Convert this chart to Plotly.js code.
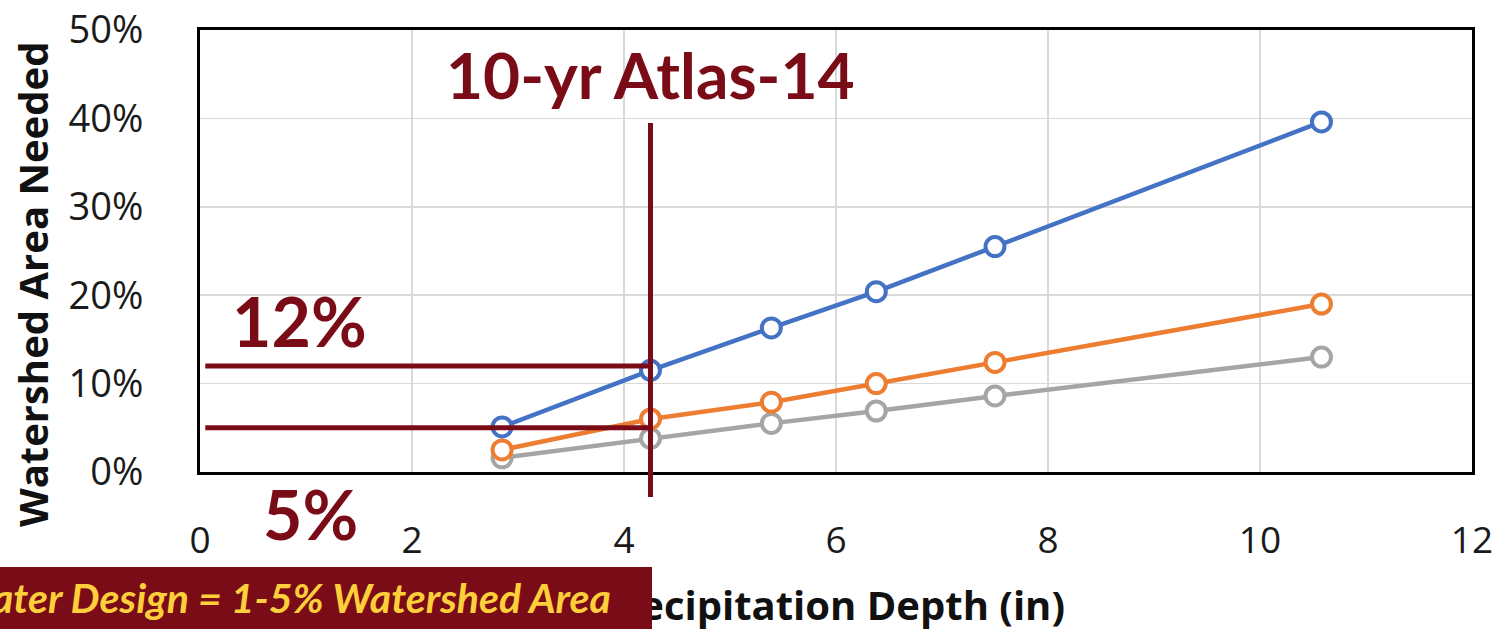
<!DOCTYPE html>
<html>
<head>
<meta charset="utf-8">
<script src="https://cdn.plot.ly/plotly-3.0.1.min.js"></script>
<style>html,body{margin:0;padding:0;background:#fff;}#chart{width:1501px;height:629px;}</style>
</head>
<body>
<div id="chart"></div>
<script>
// Precipitation depth (in)
const depth = [2.85, 4.25, 5.39, 6.38, 7.5, 10.58];
// Watershed area needed (fraction)
const seriesBlue = [0.051, 0.115, 0.163, 0.204, 0.255, 0.396];
const seriesOrange = [0.025, 0.060, 0.079, 0.100, 0.124, 0.190];
const seriesGray = [0.016, 0.038, 0.055, 0.069, 0.086, 0.130];
// Reference marks
const atlasDepth = 4.25;
const atlasHigh = 0.12;
const atlasLow = 0.05;
const xTicks = [0, 2, 4, 6, 8, 10, 12];
const yTicks = [0, 0.1, 0.2, 0.3, 0.4, 0.5];

const DR = '#7a0c18';
function line(y, color) {
  return {
    x: depth, y: y, type: 'scatter', mode: 'lines+markers',
    line: {color: color, width: 4.5},
    marker: {symbol: 'circle', size: 19, color: '#ffffff', line: {color: color, width: 4}},
    cliponaxis: false, hoverinfo: 'skip'
  };
}
const data = [line(seriesGray, '#a5a5a5'), line(seriesOrange, '#ed7d31'), line(seriesBlue, '#4472c4')];

const L = 200, T = 30, W = 1272, H = 442;
const px = v => (v - L) / W;
const py = v => (T + H - v) / H;

function ann(o) {
  return Object.assign({xref: 'paper', yref: 'paper', showarrow: false, xanchor: 'center', yanchor: 'middle'}, o);
}

const layout = {
  width: 1501, height: 629,
  margin: {l: L, r: 1501 - L - W, t: T, b: 629 - T - H},
  paper_bgcolor: '#ffffff', plot_bgcolor: '#ffffff',
  showlegend: false,
  font: {family: 'Open Sans, sans-serif', color: '#1a1a1a'},
  xaxis: {
    range: [0, 12], tickvals: xTicks, ticktext: xTicks.map(String),
    showgrid: true, gridcolor: '#d9d9d9', gridwidth: 1.5,
    showline: true, linecolor: '#000', linewidth: 3, mirror: true,
    zeroline: false, ticks: '', ticklabelstandoff: 34,
    tickfont: {size: 37, family: 'Open Sans, sans-serif', color: '#1a1a1a'}
  },
  yaxis: {
    range: [0, 0.5], tickvals: yTicks, tickformat: '.0%',
    showgrid: true, gridcolor: '#d9d9d9', gridwidth: 1.5,
    showline: true, linecolor: '#000', linewidth: 3, mirror: true,
    zeroline: false, ticks: '', ticklabelstandoff: 46,
    tickfont: {size: 38, family: 'Open Sans, sans-serif', color: '#1a1a1a'}
  },
  shapes: [
    {type: 'line', xref: 'x', yref: 'y', x0: 0.05, x1: atlasDepth, y0: atlasHigh, y1: atlasHigh, line: {color: DR, width: 5}, layer: 'above'},
    {type: 'line', xref: 'x', yref: 'y', x0: 0.05, x1: atlasDepth, y0: atlasLow, y1: atlasLow, line: {color: DR, width: 5}, layer: 'above'},
    {type: 'line', xref: 'x', yref: 'paper', x0: atlasDepth, x1: atlasDepth, y0: py(497), y1: py(123), line: {color: DR, width: 5}, layer: 'above'}
  ],
  annotations: [
    ann({x: px(32), y: py(284), text: '<b>Watershed Area Needed</b>', textangle: -90,
     font: {size: 40, family: 'Open Sans, sans-serif', color: '#111'}}),
    ann({x: px(831), y: py(604), text: '<b>Precipitation Depth (in)</b>',
     font: {size: 40, family: 'Open Sans, sans-serif', color: '#111'}}),
    ann({xref: 'x', x: atlasDepth, y: py(74), text: '<b>10-yr Atlas-14</b>',
     font: {size: 64, family: 'Lato, sans-serif', color: DR}}),
    ann({x: px(299), y: py(320), text: '<b>12%</b>',
     font: {size: 68, family: 'Lato, sans-serif', color: DR}}),
    ann({x: px(310), y: py(513), text: '<b>5%</b>',
     font: {size: 68, family: 'Lato, sans-serif', color: DR}}),
    ann({x: px(0), y: py(629), xanchor: 'left', yanchor: 'bottom', text: '&nbsp;',
     width: 652, height: 62, bgcolor: DR, borderpad: 0, borderwidth: 0, font: {size: 10}}),
    ann({x: px(613), y: py(597), xanchor: 'right', text: '<b><i>ater Design = 1-5% Watershed Area</i></b>',
     font: {size: 41, family: 'Lato, sans-serif', color: '#fdcf3a'}})
  ]
};
Plotly.newPlot('chart', data, layout, {staticPlot: true, displayModeBar: false});
</script>
</body>
</html>
